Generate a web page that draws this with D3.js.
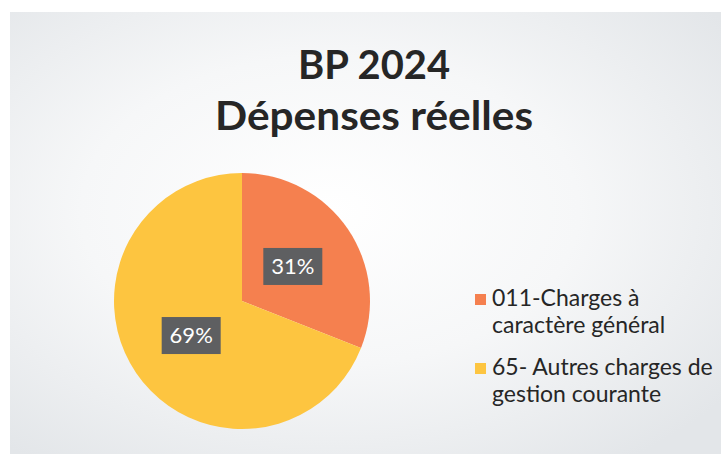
<!DOCTYPE html>
<html><head><meta charset="utf-8">
<script src="https://cdn.jsdelivr.net/npm/d3@7"></script>
<style>html,body{margin:0;padding:0;background:#fff;}svg{display:block;}</style>
</head><body>
<svg id="chart" width="721" height="454"></svg>
<script>
const titleLines = ["BP 2024", "Dépenses réelles"];
const categories = ["011-Charges à caractère général", "65- Autres charges de gestion courante"];
const legendLines = [["011-Charges à", "caractère général"], ["65- Autres charges de", "gestion courante"]];
const values = [31, 69];
const colors = ["#f5804f", "#fdc540"];

const svg = d3.select("#chart");
const W = 721, H = 454;
const defs = svg.append("defs");
const grad = defs.append("radialGradient").attr("id", "bg").attr("cx", "45%").attr("cy", "45%").attr("r", "70%");
grad.append("stop").attr("offset", "0%").attr("stop-color", "#ffffff");
grad.append("stop").attr("offset", "50%").attr("stop-color", "#f6f7f8");
grad.append("stop").attr("offset", "100%").attr("stop-color", "#e3e6e9");
svg.append("rect").attr("width", W).attr("height", H).attr("fill", "#ffffff");
svg.append("rect").attr("x", 10).attr("y", 12).attr("width", W - 10).attr("height", H - 12).attr("fill", "url(#bg)");

// title
const titleWidths = [152, 318];
svg.append("g").selectAll("text").data(titleLines).join("text")
  .attr("x", 374).attr("y", (d, i) => 79 + i * 51)
  .attr("text-anchor", "middle")
  .attr("font-family", "Lato, 'Open Sans', sans-serif")
  .attr("font-weight", "bold").attr("font-size", 40)
  .attr("textLength", (d, i) => titleWidths[i]).attr("lengthAdjust", "spacingAndGlyphs")
  .attr("fill", "#262626")
  .text(d => d);

// pie
const cx = 242, cy = 301, R = 128;
const pie = d3.pie().sort(null).value(d => d)(values);
const arc = d3.arc().innerRadius(0).outerRadius(R);
const labelArc = d3.arc().innerRadius(R * 0.96).outerRadius(R * 0.96);
const g = svg.append("g").attr("transform", `translate(${cx},${cy})`);
g.selectAll("path").data(pie).join("path")
  .attr("d", arc).attr("fill", (d, i) => colors[i]);

const total = d3.sum(values);
const lbl = g.selectAll("g.lbl").data(pie).join("g").attr("class", "lbl")
  .attr("transform", d => { const c = labelArc.centroid(d); return `translate(${c[0] / 2},${c[1] / 2})`; });
lbl.append("rect").attr("x", -29.5).attr("y", -18.5).attr("width", 59).attr("height", 37).attr("fill", "#5e5f61");
lbl.append("text").attr("text-anchor", "middle").attr("dy", "0.36em")
  .attr("font-family", "Lato, sans-serif").attr("font-size", 22).attr("fill", "#ffffff")
  .text(d => Math.round(d.value / total * 100) + "%");

// legend
const leg = svg.append("g").selectAll("g").data(categories).join("g")
  .attr("transform", (d, i) => `translate(475,${i === 0 ? 306 : 375})`);
leg.append("rect").attr("x", 0).attr("y", -12).attr("width", 11).attr("height", 11).attr("fill", (d, i) => colors[i]);
leg.each(function(d, i) {
  d3.select(this).selectAll("text").data(legendLines[i]).join("text")
    .attr("x", 17).attr("y", (t, j) => j * 27)
    .attr("font-family", "Lato, sans-serif").attr("font-size", 23).attr("fill", "#262626")
    .text(t => t);
});
</script>
</body></html>
